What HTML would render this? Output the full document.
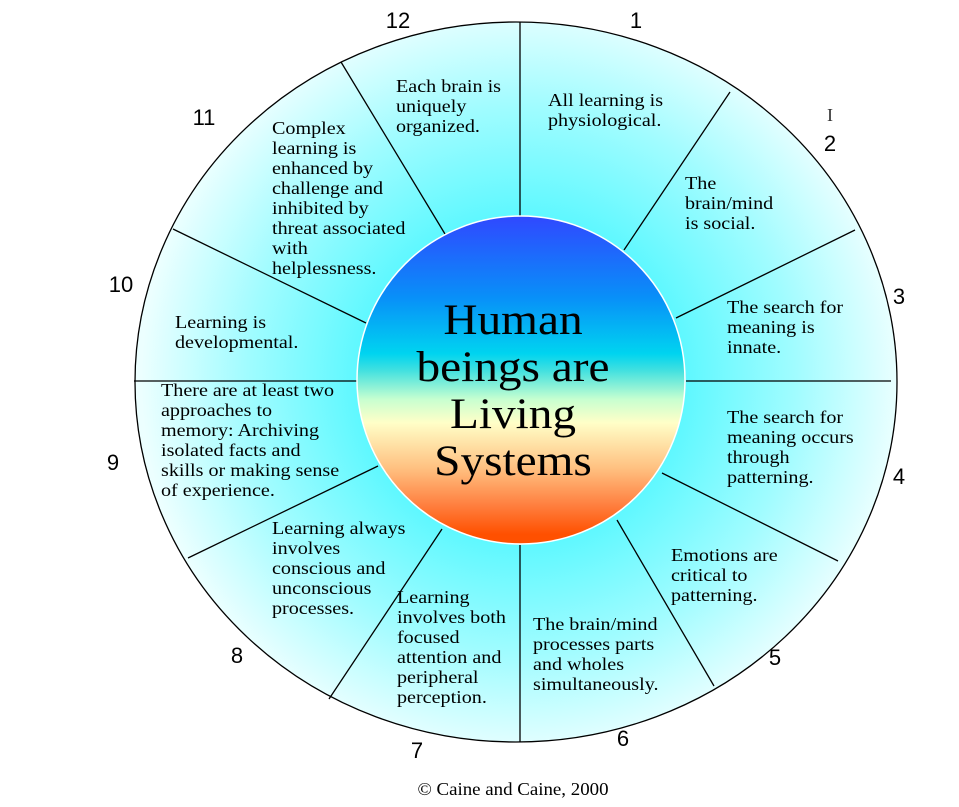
<!DOCTYPE html>
<html><head><meta charset="utf-8"><style>
html,body{margin:0;padding:0;background:#fff;}
svg{display:block;}
.t{font-family:"Liberation Serif",serif;font-size:17.5px;fill:#000;}
.n{font-family:"Liberation Sans",sans-serif;font-size:22px;fill:#000;text-anchor:middle;}
.c{font-family:"Liberation Serif",serif;font-size:43px;fill:#000;text-anchor:middle;}
</style></head><body>
<svg width="959" height="807" viewBox="0 0 959 807" xmlns="http://www.w3.org/2000/svg">
<defs>
<radialGradient id="bg" cx="521" cy="380" r="380" gradientUnits="userSpaceOnUse">
<stop offset="0.42" stop-color="#5cf8ff"/>
<stop offset="0.72" stop-color="#a0fcff"/>
<stop offset="1" stop-color="#ecffff"/>
</radialGradient>
<linearGradient id="cg" x1="0" y1="0" x2="0" y2="1">
<stop offset="0" stop-color="#3048ff"/>
<stop offset="0.25" stop-color="#0890f8"/>
<stop offset="0.42" stop-color="#00d4f0"/>
<stop offset="0.47" stop-color="#40e0e0"/>
<stop offset="0.56" stop-color="#c8ffd0"/>
<stop offset="0.63" stop-color="#ffffc8"/>
<stop offset="0.77" stop-color="#ffc080"/>
<stop offset="0.88" stop-color="#ff8040"/>
<stop offset="0.97" stop-color="#ff5000"/>
</linearGradient>
</defs>
<ellipse cx="516" cy="382" rx="381" ry="360" fill="url(#bg)" stroke="#000" stroke-width="1.3"/>
<g stroke="#000" stroke-width="1.3">
<line x1="520" y1="22" x2="520" y2="216"/>
<line x1="520" y1="545" x2="520" y2="742"/>
<line x1="730" y1="92" x2="624" y2="250"/>
<line x1="855" y1="230" x2="676" y2="318"/>
<line x1="686" y1="381" x2="891" y2="381"/>
<line x1="662" y1="473" x2="838" y2="561"/>
<line x1="617" y1="520" x2="714" y2="686"/>
<line x1="442" y1="529" x2="329" y2="699"/>
<line x1="378" y1="466" x2="188" y2="558"/>
<line x1="134" y1="381" x2="358" y2="381"/>
<line x1="173" y1="229" x2="366" y2="323"/>
<line x1="341" y1="62" x2="445" y2="234"/>
</g>
<circle cx="521" cy="380" r="164" fill="url(#cg)" stroke="#fff" stroke-width="1.5"/>
<g transform="matrix(1.1 0 0 1 -51.3 0)">
<text class="c" x="513" y="334">Human</text>
<text class="c" x="513" y="381">beings are</text>
<text class="c" x="513" y="428">Living</text>
<text class="c" x="513" y="475">Systems</text>
</g>

<g transform="matrix(1.15 0 0 1 -59.4 0)"><text class="t" x="396" y="92"><tspan x="396">Each brain is</tspan><tspan x="396" dy="20">uniquely</tspan><tspan x="396" dy="20">organized.</tspan></text></g>
<g transform="matrix(1.15 0 0 1 -82.2 0)"><text class="t" x="548" y="106"><tspan x="548">All learning is</tspan><tspan x="548" dy="20">physiological.</tspan></text></g>
<g transform="matrix(1.15 0 0 1 -102.75 0)"><text class="t" x="685" y="189"><tspan x="685">The</tspan><tspan x="685" dy="20">brain/mind</tspan><tspan x="685" dy="20">is social.</tspan></text></g>
<g transform="matrix(1.15 0 0 1 -109.05 0)"><text class="t" x="727" y="313"><tspan x="727">The search for</tspan><tspan x="727" dy="20">meaning is</tspan><tspan x="727" dy="20">innate.</tspan></text></g>
<g transform="matrix(1.15 0 0 1 -109.05 0)"><text class="t" x="727" y="423"><tspan x="727">The search for</tspan><tspan x="727" dy="20">meaning occurs</tspan><tspan x="727" dy="20">through</tspan><tspan x="727" dy="20">patterning.</tspan></text></g>
<g transform="matrix(1.15 0 0 1 -100.65 0)"><text class="t" x="671" y="561"><tspan x="671">Emotions are</tspan><tspan x="671" dy="20">critical to</tspan><tspan x="671" dy="20">patterning.</tspan></text></g>
<g transform="matrix(1.15 0 0 1 -79.95 0)"><text class="t" x="533" y="630"><tspan x="533">The brain/mind</tspan><tspan x="533" dy="20">processes parts</tspan><tspan x="533" dy="20">and wholes</tspan><tspan x="533" dy="20">simultaneously.</tspan></text></g>
<g transform="matrix(1.15 0 0 1 -59.55 0)"><text class="t" x="397" y="603"><tspan x="397">Learning</tspan><tspan x="397" dy="20">involves both</tspan><tspan x="397" dy="20">focused</tspan><tspan x="397" dy="20">attention and</tspan><tspan x="397" dy="20">peripheral</tspan><tspan x="397" dy="20">perception.</tspan></text></g>
<g transform="matrix(1.15 0 0 1 -40.8 0)"><text class="t" x="272" y="534"><tspan x="272">Learning always</tspan><tspan x="272" dy="20">involves</tspan><tspan x="272" dy="20">conscious and</tspan><tspan x="272" dy="20">unconscious</tspan><tspan x="272" dy="20">processes.</tspan></text></g>
<g transform="matrix(1.15 0 0 1 -24.15 0)"><text class="t" x="161" y="396"><tspan x="161">There are at least two</tspan><tspan x="161" dy="20">approaches to</tspan><tspan x="161" dy="20">memory: Archiving</tspan><tspan x="161" dy="20">isolated facts and</tspan><tspan x="161" dy="20">skills or making sense</tspan><tspan x="161" dy="20">of experience.</tspan></text></g>
<g transform="matrix(1.15 0 0 1 -26.25 0)"><text class="t" x="175" y="328"><tspan x="175">Learning is</tspan><tspan x="175" dy="20">developmental.</tspan></text></g>
<g transform="matrix(1.15 0 0 1 -40.8 0)"><text class="t" x="272" y="134"><tspan x="272">Complex</tspan><tspan x="272" dy="20">learning is</tspan><tspan x="272" dy="20">enhanced by</tspan><tspan x="272" dy="20">challenge and</tspan><tspan x="272" dy="20">inhibited by</tspan><tspan x="272" dy="20">threat associated</tspan><tspan x="272" dy="20">with</tspan><tspan x="272" dy="20">helplessness.</tspan></text></g>

<text class="n" x="398" y="28">12</text>
<text class="n" x="636" y="28">1</text>
<text class="n" x="830" y="151">2</text>
<text class="n" x="899" y="304">3</text>
<text class="n" x="899" y="484">4</text>
<text class="n" x="775" y="665">5</text>
<text class="n" x="623" y="746">6</text>
<text class="n" x="417" y="758">7</text>
<text class="n" x="237" y="663">8</text>
<text class="n" x="113" y="470">9</text>
<text class="n" x="121" y="292">10</text>
<text class="n" x="204" y="125">11</text>
<text x="830" y="121" font-family="Liberation Serif,serif" font-size="18" text-anchor="middle" fill="#333">I</text>
<text x="513" y="795" font-family="Liberation Serif,serif" font-size="18" text-anchor="middle" transform="matrix(1.05 0 0 1 -25.65 0)">© Caine and Caine, 2000</text>
</svg>
</body></html>
